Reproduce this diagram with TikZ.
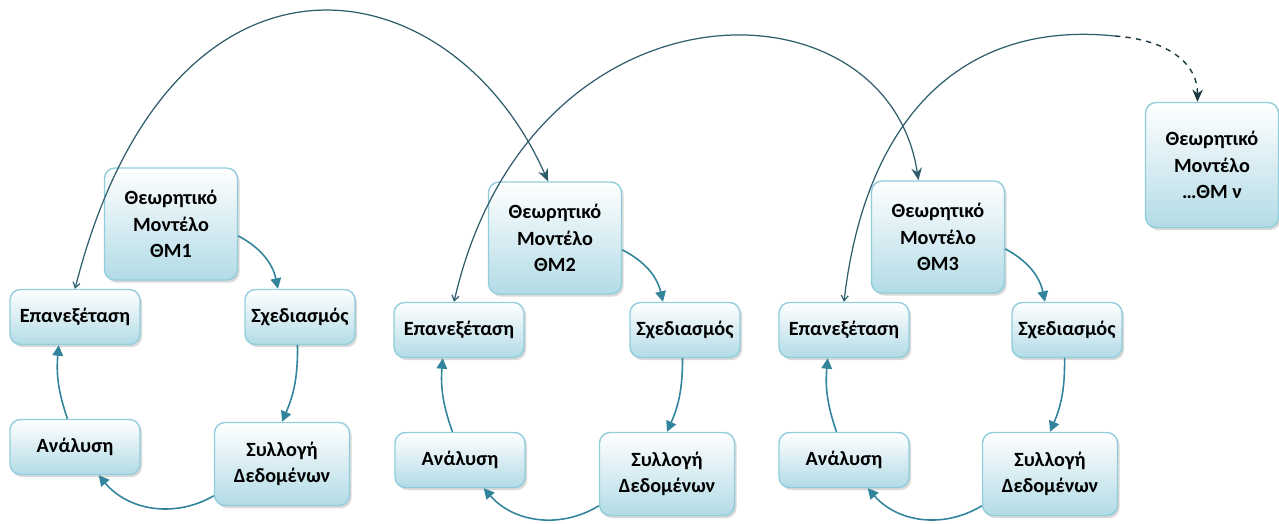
\documentclass[tikz,border=0pt]{standalone}
\usepackage{fontspec}
\setmainfont{Carlito}
\usetikzlibrary{arrows.meta,shadows}

\definecolor{boxline}{HTML}{92CDDC}
\definecolor{boxfill}{HTML}{B2DBE6}
\definecolor{cyclearrow}{HTML}{31849B}
\definecolor{bigarc}{HTML}{2E5E6C}

\tikzset{
  box/.style={draw=boxline, line width=0.8pt, rounded corners=6pt,
    top color=white, bottom color=boxfill,
    drop shadow={opacity=0.3, shadow xshift=1.2pt, shadow yshift=-1.5pt},
    align=center, inner sep=2pt,
    font=\fontsize{11.5}{15}\selectfont\bfseries},
  thbox/.style={box, minimum width=2.66cm, minimum height=2.24cm},
  wbox/.style={box, minimum width=2.6cm, minimum height=1.1cm},
  nbox/.style={box, minimum width=2.2cm, minimum height=1.1cm},
  cbox/.style={box, minimum width=2.7cm, minimum height=1.66cm},
  cyc/.style={draw=cyclearrow, line width=0.9pt, -{Triangle[length=6pt,width=6pt]}},
  arc/.style={draw=bigarc, line width=0.7pt,
    {Straight Barb[length=3pt,width=4pt]}-{Stealth[length=7pt,width=6pt]}}
}

\begin{document}
\begin{tikzpicture}[x=0.02cm, y=0.02cm]
\useasboundingbox (0,0) rectangle (1279,-524);

% first cycle
\node[thbox] (thm1) at (171,-224) {Θεωρητικό\\Μοντέλο\\ΘΜ1};
\node[wbox] (rev1) at (75,-317) {Επανεξέταση};
\node[nbox] (des1) at (300,-317) {Σχεδιασμός};
\node[wbox] (ana1) at (75,-447) {Ανάλυση};
\node[cbox] (col1) at (282,-464) {Συλλογή\\Δεδομένων};

% second cycle
\node[thbox] (thm2) at (555,-238) {Θεωρητικό\\Μοντέλο\\ΘΜ2};
\node[wbox] (rev2) at (459,-330) {Επανεξέταση};
\node[nbox] (des2) at (685,-330) {Σχεδιασμός};
\node[wbox] (ana2) at (460,-460) {Ανάλυση};
\node[cbox] (col2) at (667,-474) {Συλλογή\\Δεδομένων};

% third cycle
\node[thbox] (thm3) at (938,-237) {Θεωρητικό\\Μοντέλο\\ΘΜ3};
\node[wbox] (rev3) at (844,-330) {Επανεξέταση};
\node[nbox] (des3) at (1067,-330) {Σχεδιασμός};
\node[wbox] (ana3) at (844,-460) {Ανάλυση};
\node[cbox] (col3) at (1050,-474) {Συλλογή\\Δεδομένων};

\node[thbox, minimum height=2.5cm] (thmn) at (1212,-165) {Θεωρητικό\\Μοντέλο\\…ΘΜ ν};

% arrows inside each cycle
\draw[cyc] (thm1.-10) to[bend left=25] (des1.128);
\draw[cyc] (des1.265) to[bend left=12] (col1.north);
\draw[cyc] (col1.205) to[bend left=40] (ana1.-50);
\draw[cyc] (ana1.105) to[bend left=12] (rev1.-120);

\draw[cyc] (thm2.-10) to[bend left=25] (des2.128);
\draw[cyc] (des2.265) to[bend left=12] (col2.north);
\draw[cyc] (col2.205) to[bend left=40] (ana2.-50);
\draw[cyc] (ana2.105) to[bend left=12] (rev2.-120);

\draw[cyc] (thm3.-10) to[bend left=25] (des3.128);
\draw[cyc] (des3.265) to[bend left=12] (col3.north);
\draw[cyc] (col3.205) to[bend left=40] (ana3.-50);
\draw[cyc] (ana3.105) to[bend left=12] (rev3.-120);

% arcs to the next model
\draw[arc] (rev1.north) .. controls (170,85) and (450,40) .. (thm2.97);
\draw[arc] (rev2.100) .. controls (530,30) and (887,27) .. (thm3.109);

\coordinate (a3) at (1115,-36);
\draw[arc, {Straight Barb[length=3pt,width=4pt]}-] (rev3.north) .. controls (865,-120) and (960,-20) .. (a3);
\draw[bigarc!60!black, line width=0.8pt, dashed, -{Stealth[length=7pt,width=6pt]}]
  (a3) .. controls (1170,-40) and (1198,-65) .. (thmn.103);
\end{tikzpicture}
\end{document}
